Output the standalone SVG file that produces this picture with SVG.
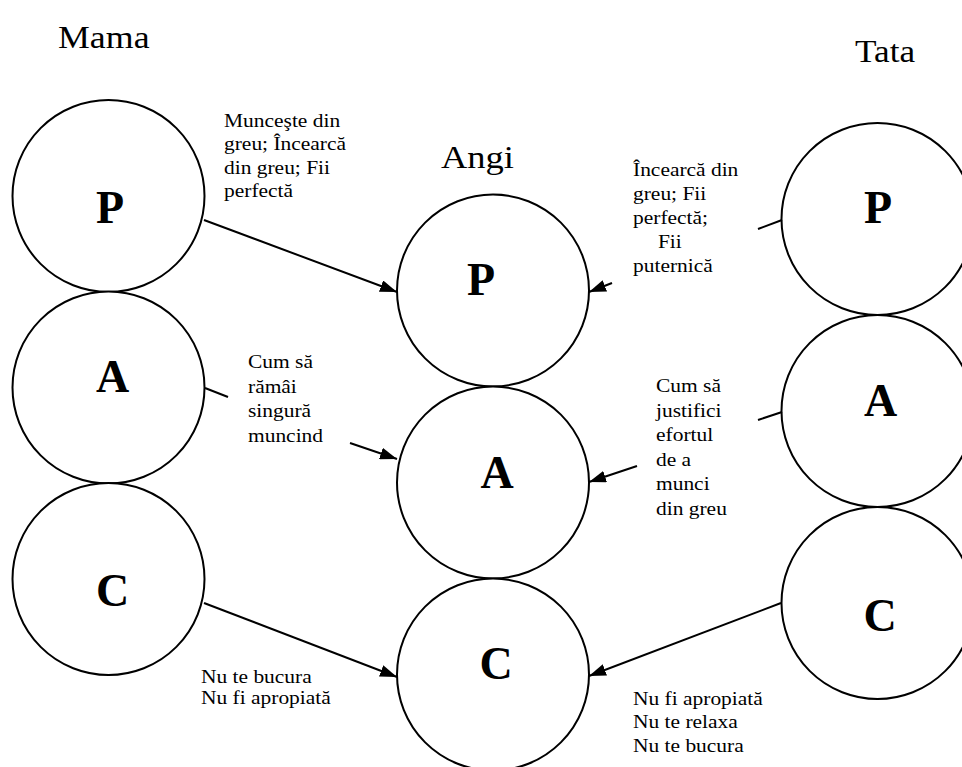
<svg xmlns="http://www.w3.org/2000/svg" width="962" height="767" viewBox="0 0 962 767">
  <style>
    .ego { fill: #fff; stroke: #000; stroke-width: 2; }
    .state { font-family: "Liberation Serif", "Times New Roman", serif; font-weight: bold; font-size: 46px; text-anchor: middle; fill: #000; }
    .title { font-family: "Liberation Serif", "Times New Roman", serif; font-size: 32px; fill: #000; }
    .note { font-family: "Liberation Serif", "Times New Roman", serif; font-size: 18.5px; fill: #000; }
    .link { stroke: #000; stroke-width: 2; fill: none; }
  </style>
  <defs>
    <marker id="arrow" markerUnits="userSpaceOnUse" markerWidth="17" markerHeight="12" refX="17" refY="6" orient="auto">
      <path d="M0,0 L17,6 L0,12 z" fill="#000"/>
    </marker>
  </defs>
  <rect width="962" height="767" fill="#fff"/>

  <!-- column titles -->
  <text class="title" transform="translate(58,48) scale(1.12 1)">Mama</text>
  <text class="title" transform="translate(855,62) scale(1.1 1)">Tata</text>
  <text class="title" transform="translate(441,168) scale(1.14 1)">Angi</text>

  <!-- Mama ego states -->
  <g id="mama-p"><circle class="ego" cx="108.5" cy="196" r="96"/><text class="state" x="110" y="223">P</text></g>
  <g id="mama-a"><circle class="ego" cx="108.5" cy="387.5" r="96"/><text class="state" x="112.5" y="392">A</text></g>
  <g id="mama-c"><circle class="ego" cx="108.5" cy="579" r="96"/><text class="state" x="112.5" y="606">C</text></g>

  <!-- Angi ego states -->
  <g id="angi-p"><circle class="ego" cx="493" cy="290.5" r="96"/><text class="state" x="481" y="295">P</text></g>
  <g id="angi-a"><circle class="ego" cx="493" cy="482.5" r="96"/><text class="state" x="497" y="488">A</text></g>
  <g id="angi-c"><circle class="ego" cx="493" cy="674.5" r="96"/><text class="state" x="496" y="679">C</text></g>

  <!-- Tata ego states -->
  <g id="tata-p"><circle class="ego" cx="877.5" cy="219" r="96"/><text class="state" x="878" y="223">P</text></g>
  <g id="tata-a"><circle class="ego" cx="877.5" cy="411" r="96"/><text class="state" x="880.5" y="416">A</text></g>
  <g id="tata-c"><circle class="ego" cx="877.5" cy="603" r="96"/><text class="state" x="880" y="631">C</text></g>

  <!-- messages passed down to Angi -->
  <g id="connectors">
    <line class="link" x1="204" y1="220" x2="397" y2="292" marker-end="url(#arrow)"/>
    <line class="link" x1="205" y1="388" x2="228" y2="397"/>
    <line class="link" x1="350" y1="443" x2="397" y2="459" marker-end="url(#arrow)"/>
    <line class="link" x1="204" y1="603" x2="397" y2="677" marker-end="url(#arrow)"/>
    <line class="link" x1="782" y1="220" x2="758" y2="229"/>
    <line class="link" x1="612" y1="283" x2="589" y2="292" marker-end="url(#arrow)"/>
    <line class="link" x1="782" y1="412" x2="758" y2="420"/>
    <line class="link" x1="637" y1="466" x2="589" y2="482" marker-end="url(#arrow)"/>
    <line class="link" x1="781" y1="603" x2="589" y2="676" marker-end="url(#arrow)"/>
  </g>

  <!-- message labels -->
  <text class="note" transform="translate(224,127) scale(1.16 1)">
    <tspan x="0" y="0">Munceşte din</tspan>
    <tspan x="0" y="23.3">greu; Încearcă</tspan>
    <tspan x="0" y="46.6">din greu; Fii</tspan>
    <tspan x="0" y="69.9">perfectă</tspan>
  </text>
  <text class="note" transform="translate(633,176) scale(1.16 1)">
    <tspan x="0" y="0">Încearcă din</tspan>
    <tspan x="0" y="24">greu; Fii</tspan>
    <tspan x="0" y="48">perfectă;</tspan>
    <tspan x="21.5" y="72">Fii</tspan>
    <tspan x="0" y="96">puternică</tspan>
  </text>
  <text class="note" transform="translate(248,368) scale(1.16 1)">
    <tspan x="0" y="0">Cum să</tspan>
    <tspan x="0" y="24.6">rămâi</tspan>
    <tspan x="0" y="49.2">singură</tspan>
    <tspan x="0" y="73.8">muncind</tspan>
  </text>
  <text class="note" transform="translate(656,392) scale(1.16 1)">
    <tspan x="0" y="0">Cum să</tspan>
    <tspan x="0" y="24.6">justifici</tspan>
    <tspan x="0" y="49.2">efortul</tspan>
    <tspan x="0" y="73.8">de a</tspan>
    <tspan x="0" y="98.4">munci</tspan>
    <tspan x="0" y="123">din greu</tspan>
  </text>
  <text class="note" transform="translate(201,683) scale(1.16 1)">
    <tspan x="0" y="0">Nu te bucura</tspan>
    <tspan x="0" y="21.3">Nu fi apropiată</tspan>
  </text>
  <text class="note" transform="translate(633,705) scale(1.16 1)">
    <tspan x="0" y="0">Nu fi apropiată</tspan>
    <tspan x="0" y="23.3">Nu te relaxa</tspan>
    <tspan x="0" y="46.6">Nu te bucura</tspan>
  </text>
</svg>
